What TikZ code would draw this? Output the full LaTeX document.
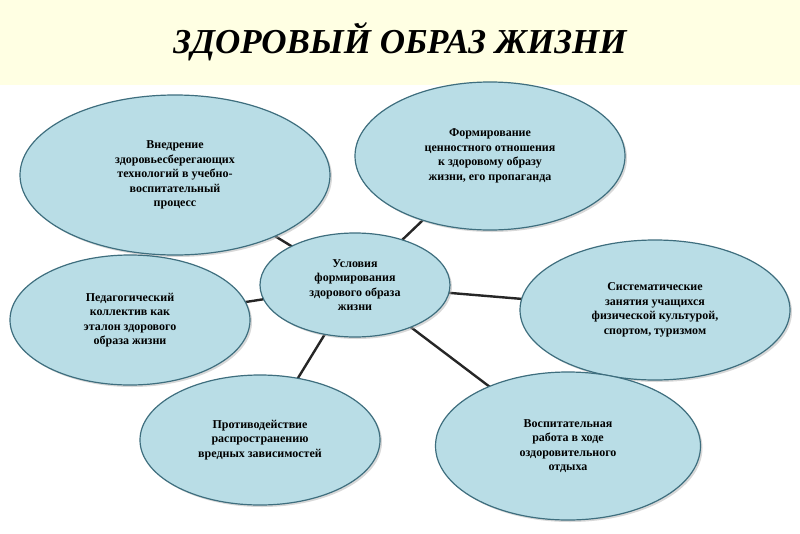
\documentclass[tikz,border=0pt]{standalone}
\usepackage{fontspec}
\setmainfont{Liberation Serif}
\usetikzlibrary{shapes.geometric,backgrounds,shadows}
\definecolor{ovalfill}{HTML}{B9DDE6}
\definecolor{ovaledge}{HTML}{3E6E7E}
\definecolor{band}{HTML}{FFFFE3}
\tikzset{
  oval/.style={ellipse,draw=ovaledge,line width=1.2pt,fill=ovalfill,align=center,
    font=\bfseries\fontsize{12}{14.5}\selectfont,inner sep=0pt,
    drop shadow={shadow xshift=2pt,shadow yshift=-2pt,fill=gray!60}},
  link/.style={line width=2.4pt,draw=black!85}
}
\begin{document}
\begin{tikzpicture}[x=1pt,y=-1pt]
\useasboundingbox (0,0) rectangle (800,533);
\node (title) at (400,42) {\fontsize{35}{38}\selectfont\bfseries\itshape ЗДОРОВЫЙ ОБРАЗ ЖИЗНИ};
\node[oval,minimum width=310,minimum height=160] (tl) at (175,175)
  {Внедрение\\здоровьесберегающих\\технологий в учебно-\\воспитательный\\процесс};
\node[oval,minimum width=270,minimum height=148] (tr) at (490,156)
  {Формирование\\ценностного отношения\\к здоровому образу\\жизни, его пропаганда};
\node[oval,minimum width=240,minimum height=130] (l) at (130,320)
  {Педагогический\\коллектив как\\эталон здорового\\образа жизни};
\node[oval,minimum width=270,minimum height=140] (r) at (655,310)
  {Систематические\\занятия учащихся\\физической культурой,\\спортом, туризмом};
\node[oval,minimum width=240,minimum height=130] (bl) at (260,440)
  {Противодействие\\распространению\\вредных зависимостей};
\node[oval,minimum width=265,minimum height=148] (br) at (568,446)
  {Воспитательная\\работа в ходе\\оздоровительного\\отдыха};
\node[oval,minimum width=190,minimum height=104] (c) at (355,285)
  {Условия\\формирования\\здорового образа\\жизни};
\begin{scope}[on background layer]
\fill[white] (0,0) rectangle (800,533);
\fill[band] (0,0) rectangle (800,85);
\foreach \t in {tl,tr,l,r,bl,br} \draw[link] (c.center) -- (\t.center);
\end{scope}
\end{tikzpicture}
\end{document}
